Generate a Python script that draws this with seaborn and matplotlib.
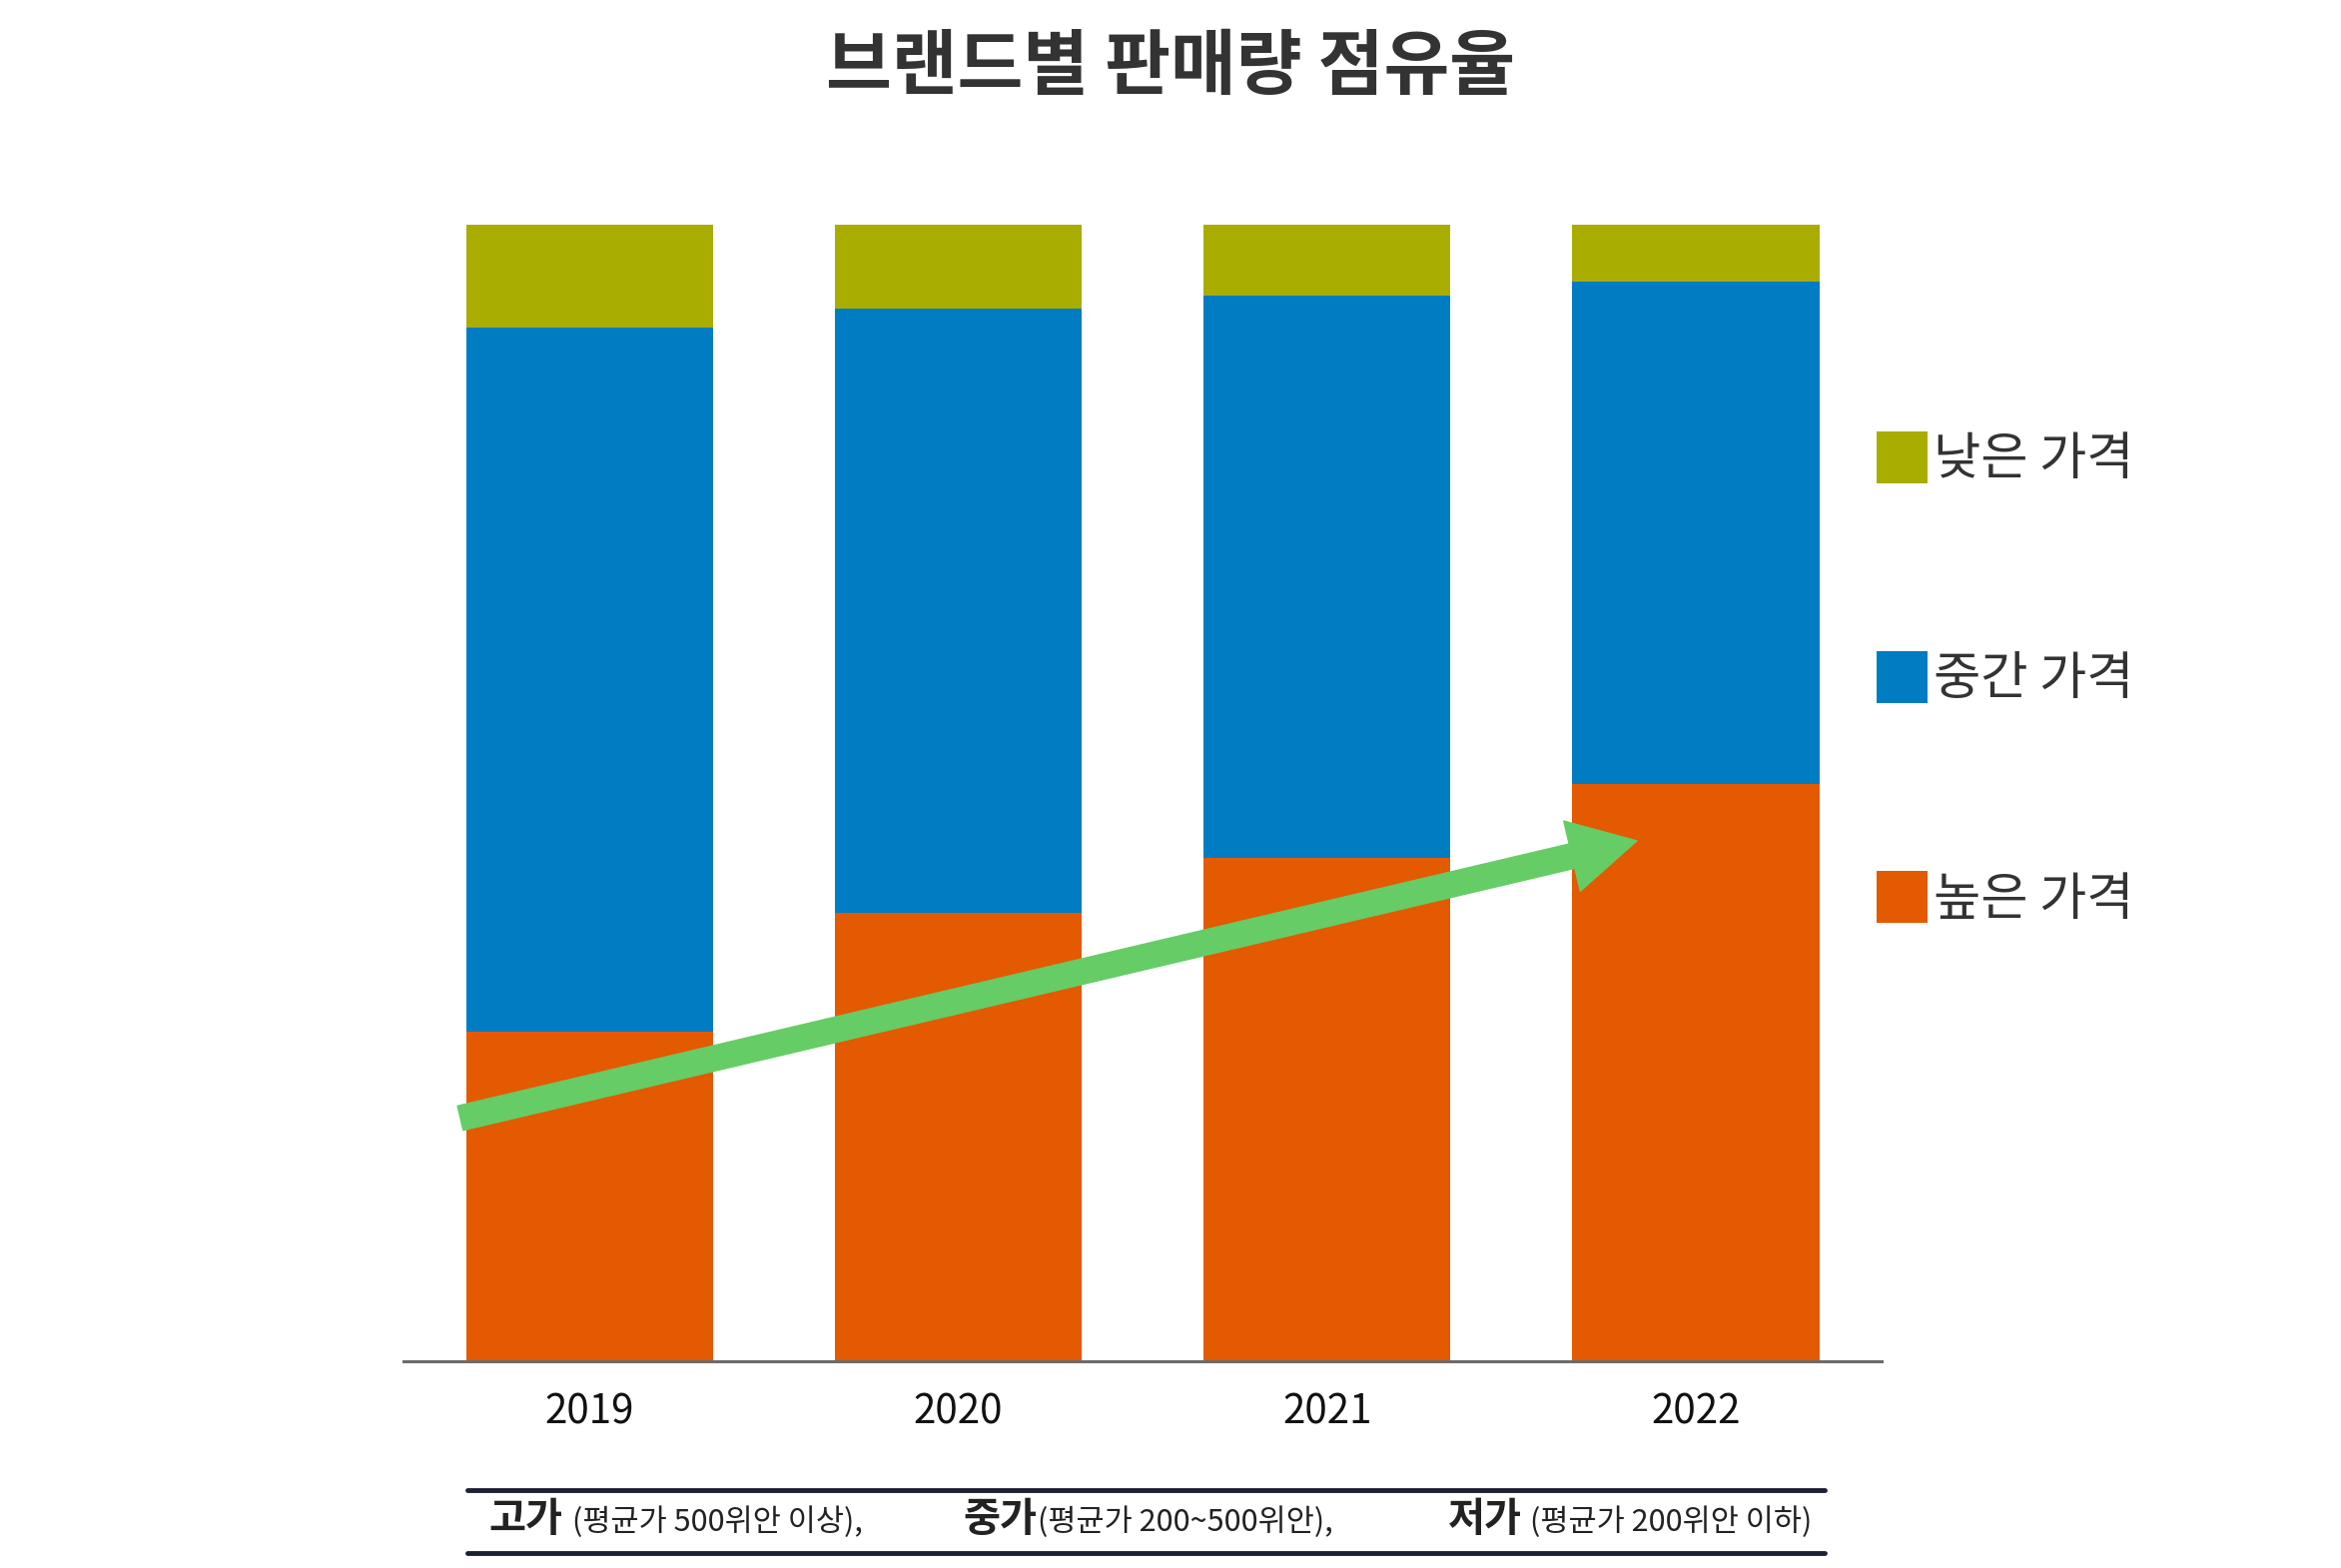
import matplotlib
matplotlib.use("Agg")
import matplotlib.pyplot as plt
import seaborn as sns
import pandas as pd
import numpy as np
from matplotlib.patches import FancyArrowPatch, Patch
from matplotlib.lines import Line2D

years = ["2019", "2020", "2021", "2022"]
high = [29.0, 39.5, 44.3, 50.8]   # 높은 가격
mid = [62.0, 53.1, 49.5, 44.2]    # 중간 가격
low = [9.0, 7.4, 6.2, 5.0]        # 낮은 가격
series_labels = ["낮은 가격", "중간 가격", "높은 가격"]
colors = {"낮은 가격": "#A8AD00", "중간 가격": "#007CC3", "높은 가격": "#E35A00"}
trend_start = (-0.35, 21.4)
trend_end = (2.84, 45.8)

sns.set_theme(style="white")
plt.rcParams["font.family"] = ["Noto Sans CJK KR", "DejaVu Sans"]

df = pd.DataFrame({"year": years, "high": high, "mid": mid, "low": low})
df["c_mid"] = df["high"] + df["mid"]
df["c_low"] = df["c_mid"] + df["low"]

fig = plt.figure(figsize=(23.44, 15.70), dpi=100)
ax = fig.add_axes([0.1724, 0.1318, 0.6314, 0.7248])

sns.barplot(data=df, x="year", y="c_low", color=colors["낮은 가격"], width=0.67,
            saturation=1, ax=ax, linewidth=0)
sns.barplot(data=df, x="year", y="c_mid", color=colors["중간 가격"], width=0.67,
            saturation=1, ax=ax, linewidth=0)
sns.barplot(data=df, x="year", y="high", color=colors["높은 가격"], width=0.67,
            saturation=1, ax=ax, linewidth=0)

ax.set_xlim(-0.504, 3.504)
ax.set_ylim(0, 100)
ax.set_xlabel("")
ax.set_ylabel("")
ax.set_yticks([])
for s in ["top", "right", "left"]:
    ax.spines[s].set_visible(False)
ax.spines["bottom"].set_color("#6b6b6b")
ax.spines["bottom"].set_linewidth(2.2)
ax.tick_params(axis="x", length=0, pad=22, labelsize=29, labelcolor="#111111")

arrow = FancyArrowPatch(trend_start, trend_end,
                        arrowstyle="simple,head_length=48,head_width=52,tail_width=18",
                        mutation_scale=1, color="#66CC66", shrinkA=0, shrinkB=0,
                        zorder=5)
ax.add_patch(arrow)

handles = [Patch(facecolor=colors[l], edgecolor="none", label=l) for l in series_labels]
leg = fig.legend(handles=handles, loc="upper left", bbox_to_anchor=(0.8015, 0.7248),
                 frameon=False, fontsize=37, handlelength=1.0, handleheight=1.17,
                 handletextpad=0.12, labelspacing=3.21, borderpad=0, borderaxespad=0)
for t in leg.get_texts():
    t.set_color("#333333")

fig.text(0.5, 0.957, "브랜드별 판매량 점유율", ha="center", va="center",
         fontsize=51.5, fontweight="bold", color="#333333")

# footer
for yy in [0.0497, 0.0096]:
    fig.add_artist(Line2D([0.1997, 0.7795], [yy, yy], color="#1c2033", linewidth=3.5))

footer = [("고가", "(평균가 500위안 이상),", 0.2086, 0.2444),
          ("중가", "(평균가 200~500위안),", 0.4113, 0.4433),
          ("저가", "(평균가 200위안 이하)", 0.6186, 0.6537)]
for bold, rest, xb, xr in footer:
    fig.text(xb, 0.0306, bold, ha="left", va="center", fontsize=29,
             fontweight="bold", color="#222222")
    fig.text(xr, 0.0290, rest, ha="left", va="center", fontsize=22, color="#222222")

fig.savefig("out.png", dpi=100, facecolor="white")
